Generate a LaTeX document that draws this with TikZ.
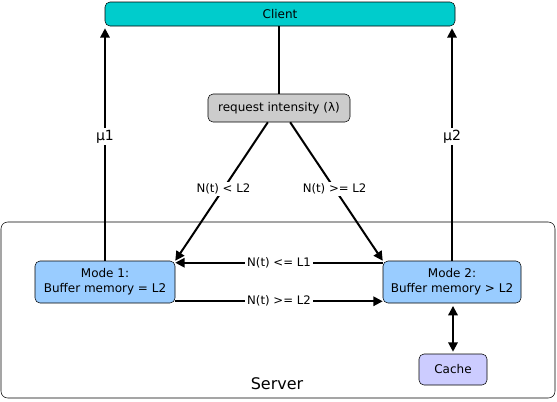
\documentclass[tikz,border=0pt]{standalone}
\usepackage{fontspec}
\setmainfont{DejaVu Sans}
\usetikzlibrary{arrows.meta}
\definecolor{clientcol}{HTML}{00CCCC}
\definecolor{requestcol}{HTML}{CCCCCC}
\definecolor{modecol}{HTML}{99CCFF}
\definecolor{cachecol}{HTML}{CCCCFF}

\begin{document}
\begin{tikzpicture}[x=0.75pt,y=-0.75pt,
		box/.style={draw, rounded corners=3.75pt, inner sep=0pt, align=center,
			font=\fontsize{9}{11}\selectfont},
		lbl/.style={fill=white, inner sep=1.5pt, font=\fontsize{8.8}{10}\selectfont},
		link/.style={line width=1.5pt},
		arr/.style={link, -{Triangle[length=7pt,width=7pt]}}]
			\useasboundingbox (0,0) rectangle (557,401);
			
			% server frame
			\node[draw, rounded corners=5pt, minimum width=415.5pt, minimum height=132pt] (server) at (278,310) {};
			\node[font=\fontsize{12}{14}\selectfont] (servername) at (277,384) {Server};
			
			% boxes
			\node[box, fill=clientcol, minimum width=262.5pt, minimum height=18pt] (client) at (280,14) {Client};
			\node[box, fill=requestcol, minimum width=106.5pt, minimum height=21pt] (request) at (279,108) {request intensity (λ)};
			\node[box, fill=modecol, minimum width=105pt, minimum height=31.5pt] (mode1) at (105,282) {Mode 1:\\Buffer memory = L2};
			\node[box, fill=modecol, minimum width=103.5pt, minimum height=31.5pt] (mode2) at (452,282) {Mode 2:\\Buffer memory > L2};
			\node[box, fill=cachecol, minimum width=51pt, minimum height=23.25pt] (cache) at (453,369.5) {Cache};
			
			% connectors
			\draw[link] (request.north |- client.south) -- (request.north);
			\draw[arr] (request.232) -- node[lbl, pos=0.48] {N(t) < L2} (mode1.north east);
			\draw[arr] (request.308) -- node[lbl, pos=0.48] {N(t) >= L2} (mode2.north west);
			\draw[arr] ([yshift=-1.5pt]mode2.north west) -- node[lbl] {N(t) <= L1} ([yshift=-1.5pt]mode1.north east);
			\draw[arr] ([yshift=1.5pt]mode1.south east) -- node[lbl] {N(t) >= L2} ([yshift=1.5pt]mode2.south west);
			\draw[arr, shorten >=1.5pt] (mode1.north) -- node[lbl, pos=0.53, font=\fontsize{10.5}{12}\selectfont] {μ1} (mode1.north |- client.south);
			\draw[arr, shorten >=1.5pt] (mode2.north) -- node[lbl, pos=0.53, font=\fontsize{10.5}{12}\selectfont] {μ2} (mode2.north |- client.south);
			\draw[arr, {Triangle[length=7pt,width=7pt]}-{Triangle[length=7pt,width=7pt]}, shorten <=2pt, shorten >=1.5pt] (mode2.south -| cache.north) -- (cache.north);
		\end{tikzpicture}
\end{document}
